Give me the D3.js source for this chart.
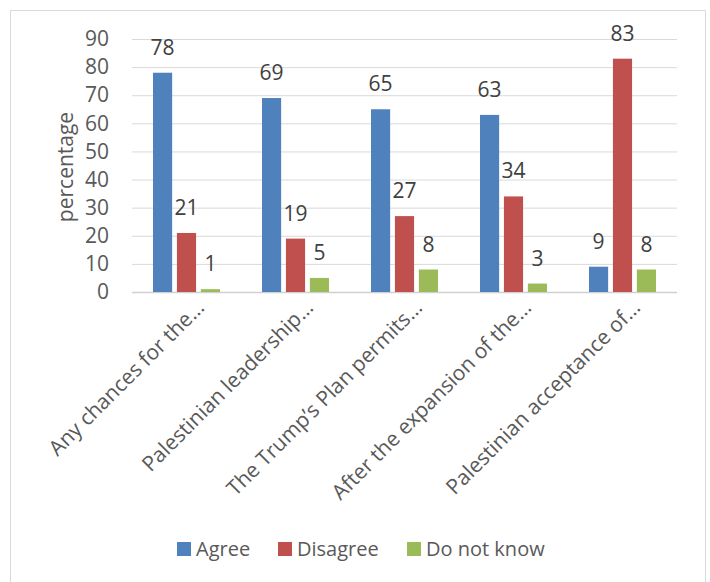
<!DOCTYPE html>
<html>
<head>
<meta charset="utf-8">
<script src="https://cdn.jsdelivr.net/npm/d3@7"></script>
<style>
  body { margin: 0; background: #fff; }
  text { font-family: "Open Sans", sans-serif; }
</style>
</head>
<body>
<div id="chart"></div>
<script>
// chart values
const categories = [
  "Any chances for the\u2026",
  "Palestinian leadership\u2026",
  "The Trump\u2019s Plan permits\u2026",
  "After the expansion of the\u2026",
  "Palestinian acceptance of\u2026"
];
const seriesNames = ["Agree", "Disagree", "Do not know"];
const agree = [78, 69, 65, 63, 9];
const disagree = [21, 19, 27, 34, 83];
const dontKnow = [1, 5, 8, 3, 8];
const yTicks = [0, 10, 20, 30, 40, 50, 60, 70, 80, 90];
const colors = ["#4f81bd", "#c0504d", "#9bbb59"];

const width = 710, height = 582;
const margin = { top: 39, left: 132, bottom: 290, right: 33 };
const iwidth = width - margin.left - margin.right;
const iheight = height - margin.top - margin.bottom;

const svg = d3.select("#chart").append("svg")
    .attr("width", width)
    .attr("height", height);

// outer frame
svg.append("rect")
    .attr("x", 10.5).attr("y", 10.5)
    .attr("width", 695).attr("height", 580)
    .attr("fill", "none").attr("stroke", "#d9d9d9");

const g = svg.append("g").attr("transform", `translate(${margin.left},${margin.top})`);

const y = d3.scaleLinear().domain([0, 90]).range([iheight, 0]);
const x = d3.scaleBand().domain(categories).range([0, iwidth]).paddingInner(0).paddingOuter(0);
const xs = d3.scaleBand().domain(seriesNames).range([21, x.bandwidth() - 21]).paddingInner(0.2);

// gridlines
g.append("g")
    .selectAll("line").data(yTicks).enter().append("line")
    .attr("x1", 0).attr("x2", iwidth)
    .attr("y1", d => y(d) + 0.5).attr("y2", d => y(d) + 0.5)
    .attr("stroke", d => d === 0 ? "#d0d0d0" : "#d9d9d9")
    .attr("stroke-width", d => d === 0 ? 1.5 : 1);

// y axis labels
const yAxis = g.append("g")
    .call(d3.axisLeft(y).tickValues(yTicks).tickSize(0).tickPadding(23));
yAxis.select(".domain").remove();
yAxis.selectAll("text")
    .attr("fill", "#595959")
    .style("font-family", "'Open Sans', sans-serif")
    .style("font-size", "21px");

svg.append("text")
    .attr("transform", `translate(73,${margin.top + 128}) rotate(-90)`)
    .attr("text-anchor", "middle")
    .attr("fill", "#595959")
    .style("font-size", "21px")
    .text("percentage");

const data = categories.map((c, i) => ({
  cat: c,
  vals: [agree[i], disagree[i], dontKnow[i]]
}));

const groups = g.selectAll(".grp").data(data).enter().append("g")
    .attr("class", "grp")
    .attr("transform", d => `translate(${x(d.cat)},0)`);

groups.selectAll("rect")
    .data(d => d.vals.map((v, j) => ({ v: v, s: seriesNames[j], j: j })))
    .enter().append("rect")
    .attr("x", d => xs(d.s))
    .attr("width", xs.bandwidth())
    .attr("y", d => y(d.v))
    .attr("height", d => iheight - y(d.v))
    .attr("fill", d => colors[d.j]);

groups.selectAll(".lbl")
    .data(d => d.vals.map((v, j) => ({ v: v, s: seriesNames[j] })))
    .enter().append("text")
    .attr("class", "lbl")
    .attr("x", d => xs(d.s) + xs.bandwidth() / 2)
    .attr("y", d => y(d.v) - 18)
    .attr("text-anchor", "middle")
    .attr("fill", "#404040")
    .style("font-size", "21px")
    .text(d => d.v);

// category labels
g.append("g").selectAll("text").data(categories).enter().append("text")
    .attr("transform", d => `translate(${x(d) + x.bandwidth() / 2 + 19},${iheight + 17}) rotate(-45)`)
    .attr("text-anchor", "end")
    .attr("fill", "#595959")
    .style("font-size", "21px")
    .text(d => d);

// legend
const legendItems = [
  { name: seriesNames[0], x: 177 },
  { name: seriesNames[1], x: 278 },
  { name: seriesNames[2], x: 407 }
];
const lg = svg.append("g");
legendItems.forEach((d, i) => {
  lg.append("rect")
      .attr("x", d.x).attr("y", 542)
      .attr("width", 14).attr("height", 14)
      .attr("fill", colors[i]);
  lg.append("text")
      .attr("x", d.x + 19).attr("y", 556)
      .attr("fill", "#595959")
      .style("font-size", "20px")
      .text(d.name);
});
</script>
</body>
</html>
